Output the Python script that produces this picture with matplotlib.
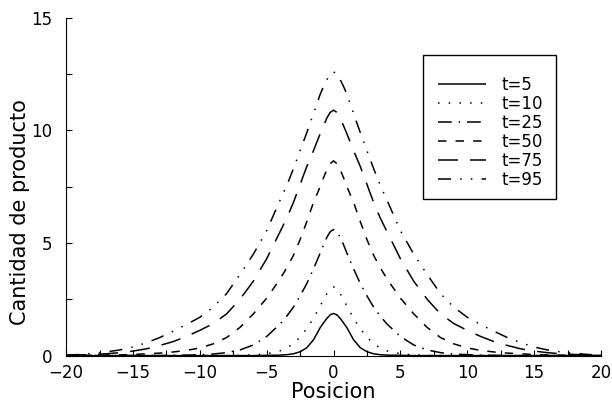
import matplotlib
matplotlib.use("Agg")
import matplotlib.pyplot as plt
from matplotlib.patches import Rectangle
from matplotlib.ticker import MultipleLocator, FuncFormatter

# positions along the line
posicion = [-20, -19, -18, -17, -16, -15, -14, -13, -12, -11, -10, -9, -8, -7, -6, -5, -4,
            -3.5, -3, -2.5, -2, -1.5, -1, -0.75, -0.5, -0.25, 0, 0.25, 0.5, 0.75, 1, 1.5, 2,
            2.5, 3, 3.5, 4, 5, 6, 7, 8, 9, 10, 11, 12, 13, 14, 15, 16, 17, 18, 19, 20]

t5 = [0, 0, 0, 0, 0, 0, 0, 0, 0, 0, 0, 0, 0, 0, 0, 0.01, 0.02, 0.04, 0.08, 0.17, 0.35, 0.70,
      1.24, 1.45, 1.65, 1.81, 1.87, 1.81, 1.65, 1.45, 1.24, 0.70, 0.35, 0.17, 0.08, 0.04, 0.02,
      0.01, 0, 0, 0, 0, 0, 0, 0, 0, 0, 0, 0, 0, 0, 0, 0]
t10 = [0, 0, 0, 0, 0, 0, 0, 0, 0, 0, 0, 0, 0, 0.01, 0.03, 0.08, 0.21, 0.34, 0.53, 0.82, 1.20,
       1.65, 2.20, 2.48, 2.75, 2.97, 3.05, 2.97, 2.75, 2.48, 2.20, 1.65, 1.20, 0.82, 0.53, 0.34,
       0.21, 0.08, 0.03, 0.01, 0, 0, 0, 0, 0, 0, 0, 0, 0, 0, 0, 0, 0]
t25 = [0, 0, 0, 0, 0, 0, 0, 0, 0.01, 0.02, 0.04, 0.07, 0.13, 0.25, 0.47, 0.85, 1.40, 1.75, 2.15,
       2.65, 3.20, 3.85, 4.55, 4.92, 5.25, 5.50, 5.60, 5.50, 5.25, 4.92, 4.55, 3.85, 3.20, 2.65,
       2.15, 1.75, 1.40, 0.85, 0.47, 0.25, 0.13, 0.07, 0.04, 0.02, 0.01, 0, 0, 0, 0, 0, 0, 0, 0]
t50 = [0, 0.01, 0.01, 0.02, 0.03, 0.05, 0.08, 0.11, 0.16, 0.23, 0.34, 0.52, 0.80, 1.25, 1.85,
       2.55, 3.40, 3.90, 4.45, 5.15, 5.95, 6.80, 7.50, 7.90, 8.25, 8.52, 8.65, 8.52, 8.25, 7.90,
       7.50, 6.80, 5.95, 5.15, 4.45, 3.90, 3.40, 2.55, 1.85, 1.25, 0.80, 0.52, 0.34, 0.23, 0.16,
       0.11, 0.08, 0.05, 0.03, 0.02, 0.01, 0.01, 0]
t75 = [0.01, 0.03, 0.05, 0.08, 0.13, 0.20, 0.30, 0.45, 0.62, 0.85, 1.12, 1.42, 1.85, 2.50, 3.30,
       4.30, 5.50, 6.10, 6.80, 7.60, 8.40, 9.10, 9.85, 10.20, 10.55, 10.80, 10.90, 10.80, 10.55,
       10.20, 9.85, 9.10, 8.40, 7.60, 6.80, 6.10, 5.50, 4.30, 3.30, 2.50, 1.85, 1.42, 1.12, 0.85,
       0.62, 0.45, 0.30, 0.20, 0.13, 0.08, 0.05, 0.03, 0.01]
t95 = [0.02, 0.05, 0.10, 0.16, 0.25, 0.38, 0.57, 0.80, 1.08, 1.38, 1.70, 2.15, 2.75, 3.60, 4.50,
       5.55, 6.90, 7.55, 8.30, 9.10, 9.90, 10.75, 11.60, 11.95, 12.25, 12.50, 12.60, 12.50, 12.25,
       11.95, 11.60, 10.75, 9.90, 9.10, 8.30, 7.55, 6.90, 5.55, 4.50, 3.60, 2.75, 2.15, 1.70, 1.38,
       1.08, 0.80, 0.57, 0.38, 0.25, 0.16, 0.10, 0.05, 0.02]

labels = ["t=5", "t=10", "t=25", "t=50", "t=75", "t=95"]
series = [t5, t10, t25, t50, t75, t95]
# dash patterns, in points
styles = [(0, ()), (0, (1, 6)), (0, (9, 4.5, 1, 4.5)), (0, (5.5, 6)),
          (0, (13, 8)), (0, (8.5, 6, 1, 6, 1, 6))]

plt.rcParams['font.family'] = ['DejaVu Sans']
fig = plt.figure(figsize=(6.12, 4.05), dpi=100)
ax = fig.add_axes([0.108, 0.122, 0.874, 0.834])

for y, lab, ls in zip(series, labels, styles):
    ax.plot(posicion, y, color='black', linewidth=1.1, linestyle=ls, label=lab)

ax.set_xlim(-20, 20)
ax.set_ylim(0, 15)
ax.spines['top'].set_visible(False)
ax.spines['right'].set_visible(False)
ax.xaxis.set_major_locator(MultipleLocator(5))
ax.xaxis.set_minor_locator(MultipleLocator(2.5))
ax.yaxis.set_major_locator(MultipleLocator(5))
ax.yaxis.set_minor_locator(MultipleLocator(2.5))
ax.xaxis.set_major_formatter(FuncFormatter(lambda v, p: "%d" % v if v >= 0 else "\u2212%d" % -v))
ax.tick_params(which='both', direction='in', length=4, width=0.8, top=False, right=False)
ax.tick_params(axis='x', labelsize=12, pad=6)
ax.tick_params(axis='y', labelsize=12, pad=10)
ax.set_xlabel("Posicion", fontsize=15)
ax.set_ylabel("Cantidad de producto", fontsize=15)
ax.xaxis.set_label_coords(0.5, -0.079)
ax.yaxis.set_label_coords(-0.068, 0.425)

# legend entries without frame, box drawn separately
leg = ax.legend(loc='center left', bbox_to_anchor=(0.695, 0.66), fontsize=12,
                frameon=False, handlelength=2.9, handletextpad=0.9,
                labelspacing=0.06, borderpad=0, borderaxespad=0)
ax.add_patch(Rectangle((0.667, 0.464), 0.249, 0.426, transform=ax.transAxes,
                       fill=False, edgecolor='black', linewidth=1.0, zorder=5))

fig.savefig("out.png", dpi=100)
